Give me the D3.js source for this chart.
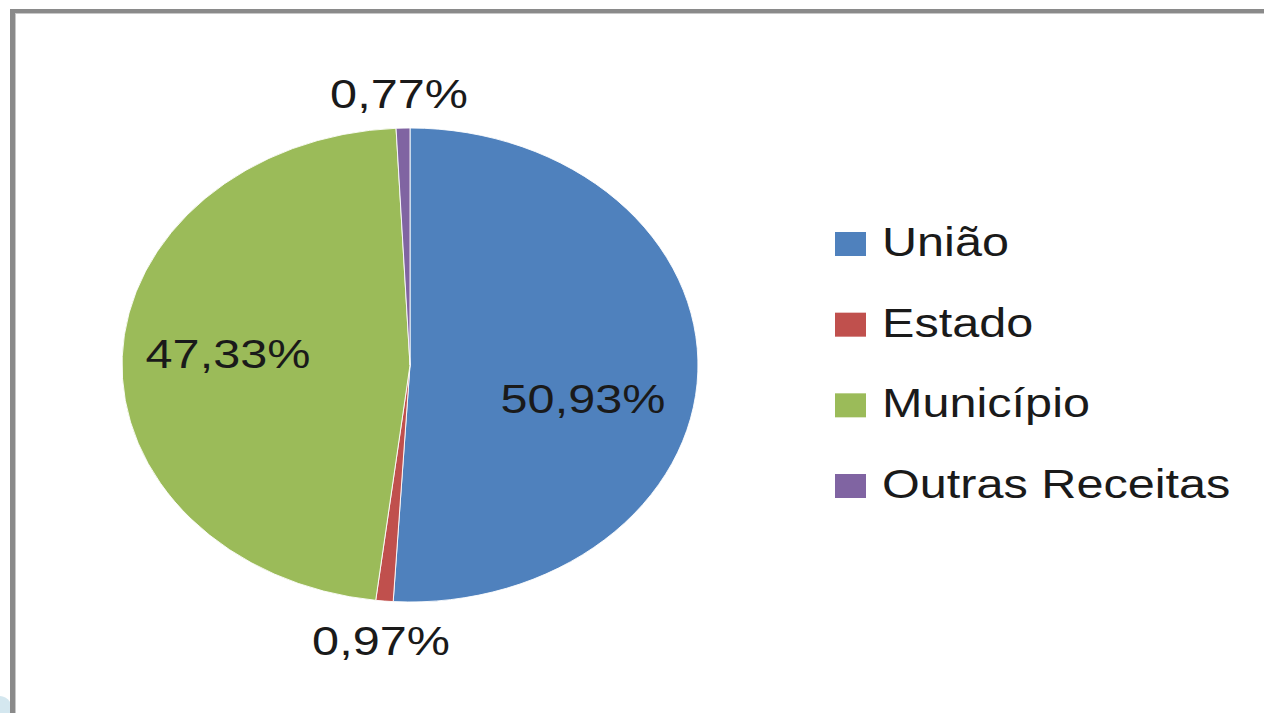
<!DOCTYPE html>
<html><head><meta charset="utf-8">
<script src="https://cdn.jsdelivr.net/npm/d3@7"></script>
<style>html,body{margin:0;padding:0;background:#fff;overflow:hidden}</style>
</head><body>
<script>
const categories = ["União", "Estado", "Município", "Outras Receitas"];
const values = [50.93, 0.97, 47.33, 0.77];
const labels = ["50,93%", "0,97%", "47,33%", "0,77%"];
const colors = ["#4F81BD", "#C0504D", "#9BBB59", "#8064A2"];

const W = 1264, H = 713;
const sx = 1.215;
const cx = 410, cy = 365, r = 237;

const svg = d3.select("body").append("svg").attr("width", W).attr("height", H);

// corner decoration
svg.append("ellipse").attr("cx", 0).attr("cy", 716).attr("rx", 14).attr("ry", 20).attr("fill", "#d4e7ef");

// frame
svg.append("line").attr("x1", 10).attr("x2", W).attr("y1", 11).attr("y2", 11)
  .attr("stroke", "#8a8a8a").attr("stroke-width", 4);
svg.append("line").attr("x1", 15).attr("x2", W).attr("y1", 13.5).attr("y2", 13.5)
  .attr("stroke", "#c8c8c8").attr("stroke-width", 1);
svg.append("line").attr("x1", 12.5).attr("x2", 12.5).attr("y1", 9).attr("y2", H)
  .attr("stroke", "#8a8a8a").attr("stroke-width", 5);
svg.append("line").attr("x1", 15.5).attr("x2", 15.5).attr("y1", 14).attr("y2", H)
  .attr("stroke", "#c8c8c8").attr("stroke-width", 1);

const data = categories.map((c, i) => ({cat: c, value: values[i], label: labels[i], color: colors[i]}));
const pie = d3.pie().value(d => d.value).sort(null);
const arc = d3.arc().innerRadius(0).outerRadius(r);

const g = svg.append("g").attr("transform", `translate(${cx},${cy}) scale(${sx},1)`);
g.selectAll("path").data(pie(data)).join("path")
  .attr("d", arc).attr("fill", d => d.data.color)
  .attr("stroke", "#fff").attr("stroke-width", 0.8);

// data labels
const labelPos = [[583, 413], [381, 655], [228, 368], [399, 108]];
const font = "'Liberation Sans', Arial, sans-serif";
data.forEach((d, i) => {
  svg.append("text")
    .attr("transform", `translate(${labelPos[i][0]},${labelPos[i][1]}) scale(${sx},1)`)
    .attr("text-anchor", "middle").attr("font-family", font).attr("font-size", 40)
    .attr("fill", "#1a1a1a").text(d.label);
});

// legend
const legendY = d3.scalePoint().domain(categories).range([256, 498]);
const lg = svg.append("g");
categories.forEach((c, i) => {
  const y = legendY(c);
  lg.append("rect").attr("x", 835).attr("y", y - 24).attr("width", 31).attr("height", 24)
    .attr("fill", colors[i]);
  lg.append("text")
    .attr("transform", `translate(882,${y}) scale(${sx},1)`)
    .attr("font-family", font).attr("font-size", 40).attr("fill", "#1a1a1a").text(c);
});
</script>
</body></html>
